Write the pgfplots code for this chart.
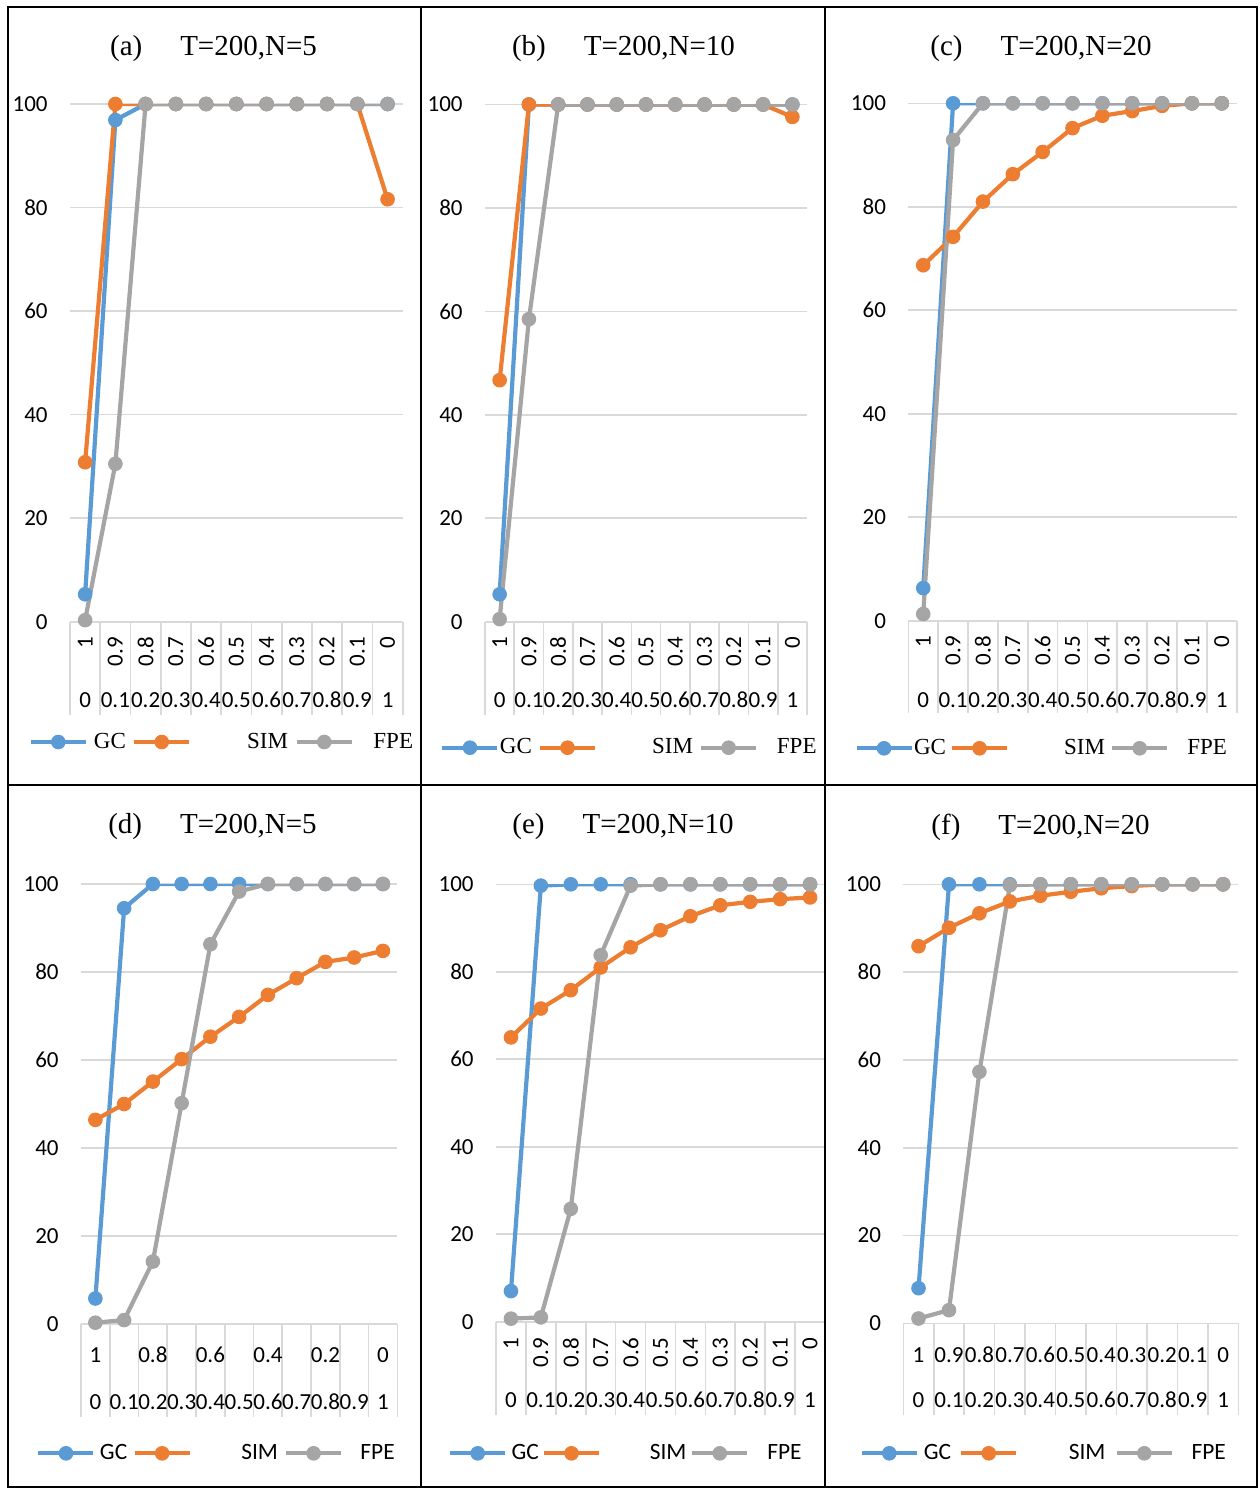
\documentclass[border=0pt]{standalone}
\usepackage{fontspec}
\setmainfont{Liberation Serif}
\newfontfamily\carlito{Carlito}
\usepackage{pgfplots}
\usepackage{pgfplotstable}
\pgfplotsset{compat=1.18}
\definecolor{cblue}{HTML}{5B9BD5}
\definecolor{corange}{HTML}{ED7D31}
\definecolor{cgray}{HTML}{A5A5A5}
\definecolor{gridc}{HTML}{D9D9D9}
\newcommand\tickfont{\carlito\fontsize{11.5}{13}\selectfont}
\newcommand\legserif{\fontsize{11.5}{13}\selectfont}
\newcommand\legsans{\carlito\fontsize{11.7}{13}\selectfont}
\newcommand\titlefont{\fontsize{14.5}{17}\selectfont}
\newcommand\gap[1]{\rule{#1}{0pt}}

\pgfplotstableread{
x gc sim fpe
0 5.3 30.8 0.3
1 96.9 100 30.5
2 100 100 100
3 100 100 100
4 100 100 100
5 100 100 100
6 100 100 100
7 100 100 100
8 100 100 100
9 100 100 100
10 100 81.6 100
}\tA
\pgfplotstableread{
x gc sim fpe
0 5.3 46.7 0.5
1 100 100 58.5
2 100 100 100
3 100 100 100
4 100 100 100
5 100 100 100
6 100 100 100
7 100 100 100
8 100 100 100
9 100 100 100
10 100 97.6 100
}\tB
\pgfplotstableread{
x gc sim fpe
0 6.3 68.7 1.3
1 100 74.2 92.9
2 100 81.0 100
3 100 86.3 100
4 100 90.6 100
5 100 95.2 100
6 100 97.6 100
7 100 98.5 100
8 100 99.5 100
9 100 100 100
10 100 100 100
}\tC
\pgfplotstableread{
x gc sim fpe
0 5.8 46.4 0.3
1 94.5 50.0 0.9
2 100 55.1 14.2
3 100 60.2 50.2
4 100 65.3 86.3
5 100 69.8 98.3
6 100 74.8 100
7 100 78.6 100
8 100 82.3 100
9 100 83.3 100
10 100 84.8 100
}\tD
\pgfplotstableread{
x gc sim fpe
0 7.0 65.0 0.7
1 99.7 71.6 1.0
2 100 75.8 25.8
3 100 81.0 83.8
4 100 85.6 99.7
5 100 89.5 100
6 100 92.7 100
7 100 95.2 100
8 100 96.0 100
9 100 96.6 100
10 100 97.0 100
}\tE
\pgfplotstableread{
x gc sim fpe
0 8.0 85.9 1.1
1 100 90.1 3.0
2 100 93.4 57.3
3 100 96.1 99.8
4 100 97.4 100
5 100 98.3 100
6 100 99.1 100
7 100 99.6 100
8 100 100 100
9 100 100 100
10 100 100 100
}\tF

\pgfplotsset{
  legend image code/.code={\draw[mark repeat=2,mark phase=2,#1] plot coordinates {(0pt,0pt)(13.75pt,0pt)(27.5pt,0pt)};},
  panel/.style={
    scale only axis, anchor=south west,
    xmin=-0.5, xmax=10.5, ymin=0, ymax=100,
    xtick={0,...,10}, ytick={0,20,...,100},
    minor xtick={-0.5,0.5,...,10.5},
    major tick length=0pt, tick align=outside,
    xtick pos=bottom, ytick pos=left,
    ymajorgrids, grid style={draw=gridc, line width=0.8pt},
    minor tick style={draw=gridc, line width=0.8pt},
    axis line style={draw=none},
    tick label style={font=\tickfont, inner sep=0pt},
    /pgf/number format/assume math mode=true,
    yticklabel shift=11pt,
    legend columns=3, legend cell align=left,
    legend style={draw=none, fill=none, inner sep=0pt, column sep=0pt, nodes={inner sep=0pt}, anchor=west},
  },
  rotlab/.style={xticklabels={1,0.9,0.8,0.7,0.6,0.5,0.4,0.3,0.2,0.1,0},
    xticklabel style={rotate=90, anchor=east}, xticklabel shift=#1},
  rowtwo/.style={after end axis/.append code={
    \foreach \lab [count=\i from 0] in {0,0.1,0.2,0.3,0.4,0.5,0.6,0.7,0.8,0.9,1}{
      \node[font=\tickfont, inner sep=0pt, anchor=center] at ([yshift=-#1]axis cs:\i,0) {\lab};}}},
  gcs/.style={color=cblue, line width=2.1pt, line join=round, mark=*, mark size=3.4pt, mark options={solid, line width=0.5pt}},
  sims/.style={color=corange, line width=2.1pt, line join=round, mark=*, mark size=3.4pt, mark options={solid, line width=0.5pt}},
  fpes/.style={color=cgray, line width=2.1pt, line join=round, mark=*, mark size=3.4pt, mark options={solid, line width=0.5pt}},
}

\begin{document}
\begin{tikzpicture}
\path[use as bounding box] (0pt,0pt) rectangle (629.5pt,-744pt);

% (a)
\begin{axis}[panel, at={(35pt,-310.85pt)}, width=166.35pt, height=258.85pt,
  rotlab=7.5pt, rowtwo=39.15pt, minor tick length=46.65pt,
  legend style={at={(-0.1253,-0.2324)}, font=\legserif}]
\addplot[gcs] table[x=x,y=gc]{\tA};
\addplot[sims] table[x=x,y=sim]{\tA};
\addplot[fpes] table[x=x,y=fpe]{\tA};
\legend{\gap{3pt}GC\gap{3.15pt},\gap{27.85pt}SIM\gap{3.35pt},\gap{9.8pt}FPE}
\end{axis}

% (b)
\begin{axis}[panel, at={(242.5pt,-310.85pt)}, width=161pt, height=258.6pt,
  rotlab=7.5pt, rowtwo=39.15pt, minor tick length=46.65pt,
  legend style={at={(-0.1398,-0.2436)}, font=\legserif}]
\addplot[gcs] table[x=x,y=gc]{\tB};
\addplot[sims] table[x=x,y=sim]{\tB};
\addplot[fpes] table[x=x,y=fpe]{\tB};
\legend{\gap{0.2pt}GC\gap{3pt},\gap{27.5pt}SIM\gap{3pt},\gap{9.35pt}FPE}
\end{axis}

% (c)
\begin{axis}[panel, at={(454.15pt,-310.35pt)}, width=164.2pt, height=258.7pt,
  rotlab=7.5pt, rowtwo=39.65pt, minor tick length=46.15pt,
  legend style={at={(-0.1653,-0.2466)}, font=\legserif}]
\addplot[gcs] table[x=x,y=gc]{\tC};
\addplot[sims] table[x=x,y=sim]{\tC};
\addplot[fpes] table[x=x,y=fpe]{\tC};
\legend{\gap{0.2pt}GC\gap{2pt},\gap{27.5pt}SIM\gap{2.5pt},\gap{9pt}FPE}
\end{axis}

% (d)
\begin{axis}[panel, at={(40.5pt,-662pt)}, width=158.15pt, height=220pt,
  xticklabels={1,,0.8,,0.6,,0.4,,0.2,,0}, xticklabel style={anchor=center}, xticklabel shift=15.5pt,
  rowtwo=38.85pt, minor tick length=46.35pt,
  legend style={at={(-0.1423,-0.2939)}, font=\legsans}]
\addplot[gcs] table[x=x,y=gc]{\tD};
\addplot[sims] table[x=x,y=sim]{\tD};
\addplot[fpes] table[x=x,y=fpe]{\tD};
\legend{\gap{2.2pt}GC\gap{2.65pt},\gap{24.8pt}SIM\gap{3pt},\gap{8.65pt}FPE}
\end{axis}

% (e)
\begin{axis}[panel, at={(248pt,-660.85pt)}, width=164.5pt, height=218.7pt,
  rotlab=8pt, rowtwo=39.15pt, minor tick length=46.65pt,
  legend style={at={(-0.1468,-0.3009)}, font=\legsans}]
\addplot[gcs] table[x=x,y=gc]{\tE};
\addplot[sims] table[x=x,y=sim]{\tE};
\addplot[fpes] table[x=x,y=fpe]{\tE};
\legend{\gap{2.2pt}GC\gap{1.5pt},\gap{24.35pt}SIM\gap{1.85pt},\gap{9pt}FPE}
\end{axis}

% (f)
\begin{axis}[panel, at={(451.65pt,-661.65pt)}, width=167.5pt, height=219.5pt,
  xticklabels={1,0.9,0.8,0.7,0.6,0.5,0.4,0.3,0.2,0.1,0}, xticklabel style={anchor=center}, xticklabel shift=15.85pt,
  rowtwo=38.35pt, minor tick length=45.85pt,
  legend style={at={(-0.1313,-0.2961)}, font=\legsans}]
\addplot[gcs] table[x=x,y=gc]{\tF};
\addplot[sims] table[x=x,y=sim]{\tF};
\addplot[fpes] table[x=x,y=fpe]{\tF};
\legend{\gap{2.5pt}GC\gap{4pt},\gap{25.2pt}SIM\gap{4.65pt},\gap{8.85pt}FPE}
\end{axis}

% titles
\node[font=\titlefont, inner sep=0pt] at (106.75pt,-24.5pt) {(a)\hspace{19pt}T=200,N=5};
\node[font=\titlefont, inner sep=0pt] at (311.75pt,-24.5pt) {(b)\hspace{19pt}T=200,N=10};
\node[font=\titlefont, inner sep=0pt] at (520.5pt,-24.5pt) {(c)\hspace{19pt}T=200,N=20};
\node[font=\titlefont, inner sep=0pt] at (106.25pt,-413.5pt) {(d)\hspace{19pt}T=200,N=5};
\node[font=\titlefont, inner sep=0pt] at (311.5pt,-413.5pt) {(e)\hspace{19pt}T=200,N=10};
\node[font=\titlefont, inner sep=0pt] at (520.25pt,-413.5pt) {(f)\hspace{19pt}T=200,N=20};

% panel borders
\draw[line width=1pt] (4pt,-3.5pt) rectangle (628.5pt,-743.5pt);
\draw[line width=1pt] (4pt,-392.5pt) -- (628.5pt,-392.5pt);
\draw[line width=1pt] (210.5pt,-3.5pt) -- (210.5pt,-743.5pt);
\draw[line width=1pt] (412.5pt,-3.5pt) -- (412.5pt,-743.5pt);
\end{tikzpicture}
\end{document}
